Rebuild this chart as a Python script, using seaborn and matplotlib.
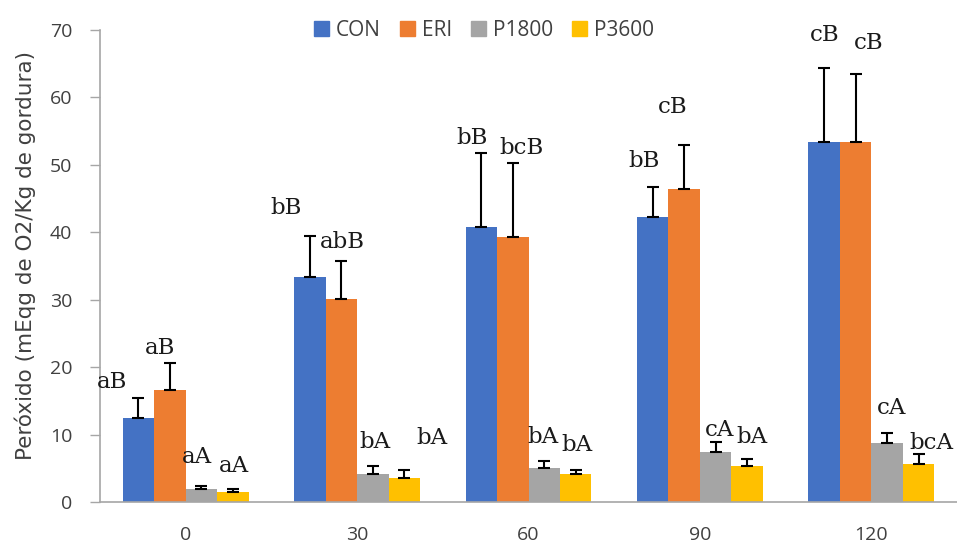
import numpy as np
import pandas as pd
import seaborn as sns
import matplotlib.pyplot as plt

# Storage days and treatments
days = ["0", "30", "60", "90", "120"]
treatments = ["CON", "ERI", "P1800", "P3600"]

# Mean peroxide values (mEq O2/kg fat) per treatment across days
con = [12.5, 33.4, 40.8, 42.3, 53.4]
eri = [16.6, 30.1, 39.3, 46.4, 53.4]
p1800 = [1.9, 4.2, 5.0, 7.4, 8.7]
p3600 = [1.5, 3.6, 4.2, 5.4, 5.7]

# Standard deviations (upper error bars)
con_sd = [2.9, 6.0, 11.0, 4.4, 11.0]
eri_sd = [4.0, 5.6, 11.0, 6.5, 10.1]
p1800_sd = [0.5, 1.1, 1.1, 1.5, 1.5]
p3600_sd = [0.5, 1.1, 0.6, 1.0, 1.4]

# Significance letters
con_lbl = ["aB", "bB", "bB", "bB", "cB"]
eri_lbl = ["aB", "abB", "bcB", "cB", "cB"]
p1800_lbl = ["aA", "bA", "bA", "cA", "cA"]
p3600_lbl = ["aA", "bA", "bA", "bA", "bcA"]

# Letter placement: height in data units, horizontal shift in pixels
con_lbl_y = [17.8, 43.6, 54.0, 50.6, 69.3]
eri_lbl_y = [22.8, 38.6, 52.5, 58.6, 68.1]
p1800_lbl_y = [6.7, 8.9, 9.6, 10.7, 13.9]
p3600_lbl_y = [5.3, 9.5, 8.5, 9.6, 8.7]
con_lbl_dx = [-26, -24, -9, -9, 1]
eri_lbl_dx = [-10, 1, 9, -11, 13]
p1800_lbl_dx = [-5, 2, -1, 4, 5]
p3600_lbl_dx = [1, 28, 1, 5, 13]

colors = ["#4472C4", "#ED7D31", "#A5A5A5", "#FFC000"]

means = [con, eri, p1800, p3600]
sds = [con_sd, eri_sd, p1800_sd, p3600_sd]
labels = [con_lbl, eri_lbl, p1800_lbl, p3600_lbl]
lbl_y = [con_lbl_y, eri_lbl_y, p1800_lbl_y, p3600_lbl_y]
lbl_dx = [con_lbl_dx, eri_lbl_dx, p1800_lbl_dx, p3600_lbl_dx]

df = pd.DataFrame(
    [(d, t, means[i][j]) for i, t in enumerate(treatments) for j, d in enumerate(days)],
    columns=["day", "treatment", "value"],
)

sns.set_theme(style="white")
plt.rcParams["font.family"] = ["Open Sans", "DejaVu Sans"]

fig = plt.figure(figsize=(9.57, 5.44), dpi=100)
ax = fig.add_axes([100 / 957, 42 / 544, 857 / 957, 472 / 544])

sns.barplot(
    data=df, x="day", y="value", hue="treatment", order=days,
    hue_order=treatments, palette=colors, width=0.735, errorbar=None,
    saturation=1, linewidth=0, ax=ax, legend=True,
)

bar_groups = list(ax.containers)
for i, cont in enumerate(bar_groups):
    xs = np.array([p.get_x() + p.get_width() / 2 for p in cont.patches])
    ax.errorbar(
        xs, means[i], yerr=[np.zeros(len(days)), sds[i]], fmt="none",
        ecolor="black", elinewidth=1.5, capsize=4.5, capthick=1.5, zorder=5,
    )
    for j, x in enumerate(xs):
        ax.annotate(
            labels[i][j], xy=(x, lbl_y[i][j]), xytext=(lbl_dx[i][j], 0),
            textcoords="offset pixels", ha="center", va="center",
            fontsize=16.5, family=["DejaVu Serif"], color="#1a1a1a",
        )

ax.set_xlim(-0.5, 4.5)
ax.set_ylim(0, 70)
ax.set_yticks(range(0, 71, 10))
ax.set_xlabel("")
ax.set_ylabel("Peróxido (mEqg de O2/Kg de gordura)", fontsize=15.5,
              family=["DejaVu Sans"], color="#404040")
ax.yaxis.set_label_coords(-0.0747, 0.523)

for s in ["top", "right"]:
    ax.spines[s].set_visible(False)
ax.spines["left"].set_color("#A6A6A6")
ax.spines["bottom"].set_color("#A6A6A6")
ax.spines["left"].set_linewidth(1.2)
ax.spines["bottom"].set_linewidth(1.2)
ax.tick_params(axis="y", which="major", left=True, length=7, width=1.0,
               color="#A6A6A6", labelsize=14, labelcolor="#404040", pad=13)
ax.tick_params(axis="x", bottom=False, labelsize=14, labelcolor="#404040", pad=11)

ax.legend_.remove()
handles = [plt.Rectangle((0, 0), 1, 1, color=c) for c in colors]
fig.legend(
    handles, treatments, loc="center", bbox_to_anchor=(484 / 957, 1 - 30 / 544),
    ncol=4, frameon=False, fontsize=15, handlelength=0.72, handleheight=0.72,
    handletextpad=0.34, columnspacing=0.9, labelcolor="#404040",
)

fig.savefig("out.png", dpi=100)
